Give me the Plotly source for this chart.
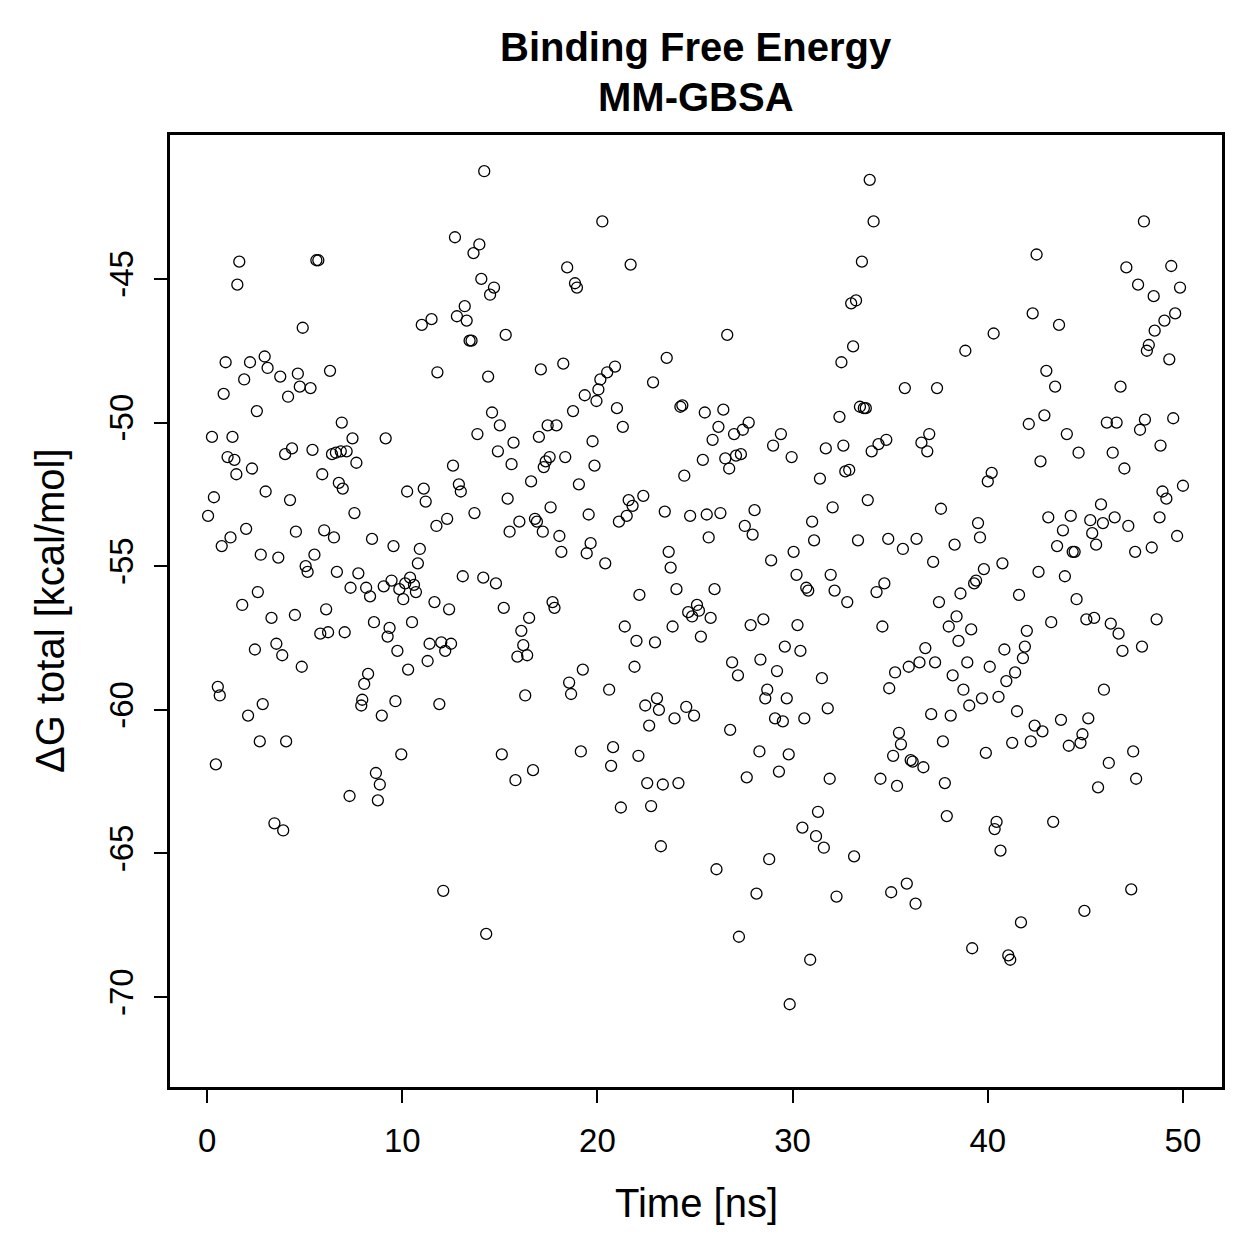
import plotly.graph_objects as go

time_ns = [
0.05,0.25,0.35,0.45,0.55,0.65,0.75,0.85,0.95,1.05,1.2,1.3,1.4,1.5,1.55,1.65,1.8,1.9,2.0,2.1,2.2,2.3,2.45,2.55,2.6,2.7,2.75,2.85,2.95,3.0,
3.1,3.3,3.45,3.55,3.65,3.75,3.85,3.9,4.0,4.05,4.15,4.25,4.35,4.5,4.55,4.65,4.75,4.85,4.9,5.05,5.15,5.3,5.4,5.5,5.6,5.7,5.8,5.9,6.0,6.1,
6.2,6.3,6.4,6.5,6.6,6.65,6.75,6.85,6.9,6.95,7.05,7.15,7.3,7.35,7.45,7.55,7.65,7.75,7.9,7.95,8.05,8.15,8.25,8.35,8.45,8.55,8.65,8.75,8.85,8.95,
9.05,9.15,9.25,9.35,9.45,9.55,9.65,9.75,9.85,9.95,10.05,10.15,10.25,10.3,10.4,10.5,10.6,10.7,10.8,10.9,11.0,11.1,11.2,11.3,11.4,11.5,11.65,11.75,11.8,11.9,
12.0,12.1,12.2,12.3,12.4,12.5,12.6,12.7,12.8,12.9,13.0,13.1,13.2,13.3,13.45,13.55,13.65,13.7,13.85,13.95,14.05,14.15,14.2,14.3,14.4,14.5,14.6,14.7,14.8,14.9,
15.0,15.1,15.2,15.3,15.4,15.5,15.6,15.7,15.8,15.9,16.0,16.1,16.2,16.3,16.4,16.5,16.6,16.7,16.8,16.9,17.0,17.1,17.2,17.25,17.35,17.45,17.55,17.6,17.7,17.8,
17.9,18.05,18.15,18.25,18.35,18.45,18.55,18.65,18.75,18.85,18.95,19.05,19.15,19.25,19.35,19.45,19.55,19.65,19.75,19.85,19.95,20.05,20.15,20.25,20.4,20.5,20.6,20.7,20.8,20.9,
21.0,21.1,21.2,21.3,21.4,21.5,21.6,21.7,21.8,21.9,22.0,22.1,22.15,22.35,22.45,22.55,22.65,22.75,22.85,22.95,23.05,23.15,23.25,23.35,23.45,23.55,23.65,23.75,23.85,23.95,
24.05,24.15,24.25,24.35,24.45,24.55,24.65,24.75,24.85,24.95,25.1,25.2,25.3,25.4,25.5,25.6,25.7,25.8,25.9,26.0,26.1,26.2,26.3,26.45,26.55,26.65,26.75,26.8,26.9,27.0,
27.1,27.2,27.25,27.35,27.45,27.55,27.65,27.75,27.85,27.95,28.05,28.15,28.3,28.35,28.5,28.6,28.7,28.8,28.9,29.0,29.1,29.2,29.3,29.4,29.5,29.6,29.7,29.8,29.85,29.95,
30.05,30.2,30.25,30.4,30.5,30.6,30.7,30.8,30.9,31.0,31.1,31.2,31.3,31.4,31.5,31.6,31.7,31.8,31.9,31.95,32.05,32.15,32.25,32.4,32.5,32.6,32.7,32.8,32.9,33.0,
33.1,33.15,33.25,33.35,33.45,33.55,33.65,33.75,33.85,33.95,34.05,34.15,34.3,34.4,34.5,34.6,34.7,34.8,34.9,34.95,35.05,35.15,35.25,35.35,35.45,35.55,35.65,35.75,35.85,35.95,
36.05,36.15,36.3,36.35,36.5,36.6,36.7,36.8,36.9,37.0,37.1,37.2,37.3,37.4,37.5,37.6,37.7,37.8,37.9,38.0,38.1,38.2,38.3,38.4,38.5,38.6,38.75,38.85,38.95,39.05,
39.15,39.2,39.3,39.4,39.5,39.6,39.7,39.8,39.9,40.0,40.1,40.2,40.3,40.35,40.45,40.55,40.65,40.75,40.85,40.95,41.05,41.15,41.25,41.4,41.5,41.6,41.7,41.8,41.9,42.0,
42.1,42.2,42.3,42.4,42.5,42.6,42.7,42.8,42.9,43.0,43.1,43.25,43.35,43.45,43.55,43.65,43.75,43.85,43.95,44.05,44.15,44.25,44.35,44.45,44.55,44.65,44.75,44.85,44.95,45.05,
45.15,45.25,45.35,45.45,45.55,45.65,45.8,45.9,45.95,46.1,46.2,46.3,46.4,46.5,46.6,46.7,46.8,46.9,47.0,47.1,47.2,47.35,47.45,47.55,47.6,47.7,47.8,47.9,48.0,48.05,
48.15,48.25,48.4,48.5,48.55,48.65,48.8,48.85,48.95,49.05,49.15,49.3,49.4,49.5,49.6,49.7,49.85,50.0,
]

delta_g = [
-53.25,-50.5,-52.6,-61.9,-59.2,-59.5,-54.3,-49.0,-47.9,-51.2,-54.0,-50.5,-51.3,-51.8,-45.2,-44.4,-56.35,-48.5,-53.7,-60.2,-47.9,-51.6,-57.9,-49.6,-55.9,-61.1,-54.6,-59.8,-47.7,-52.4,
-48.1,-56.8,-63.95,-57.7,-54.7,-48.4,-58.1,-64.2,-51.1,-61.1,-49.1,-52.7,-50.9,-56.7,-53.8,-48.3,-48.75,-58.5,-46.7,-55.0,-55.2,-48.8,-50.95,-54.6,-44.35,-44.35,-57.35,-51.8,-53.75,-56.5,
-57.3,-48.2,-51.1,-54.0,-51.05,-55.2,-52.1,-51.0,-50.0,-52.3,-57.3,-51.0,-63.0,-55.75,-50.55,-53.15,-51.4,-55.25,-59.85,-59.65,-59.1,-55.75,-58.75,-56.05,-54.05,-56.95,-62.2,-63.15,-62.6,-60.2,
-55.7,-50.55,-57.45,-57.15,-55.5,-54.3,-59.7,-57.95,-55.8,-61.55,-56.15,-55.6,-52.4,-58.6,-55.4,-56.95,-55.65,-55.9,-54.9,-54.4,-46.6,-52.3,-52.75,-58.3,-57.7,-46.4,-56.25,-53.6,-48.25,-59.8,
-57.65,-66.3,-57.95,-53.35,-56.5,-57.7,-51.5,-43.55,-46.3,-52.15,-52.4,-55.35,-45.95,-46.45,-47.15,-47.15,-44.1,-53.15,-50.4,-43.8,-45.0,-55.4,-41.25,-67.8,-48.4,-45.55,-49.65,-45.3,-55.6,-51.0,
-50.1,-61.55,-56.45,-46.95,-52.65,-53.8,-51.45,-50.7,-62.45,-58.15,-53.45,-57.25,-57.75,-59.5,-58.1,-56.8,-52.05,-62.1,-53.35,-53.45,-50.5,-48.15,-53.8,-51.55,-51.35,-50.1,-51.2,-52.95,-56.25,-56.45,
-50.1,-53.95,-54.5,-47.95,-51.2,-44.6,-59.05,-59.45,-49.6,-45.15,-45.3,-52.15,-61.45,-58.6,-49.05,-54.55,-53.2,-54.2,-50.65,-51.5,-49.25,-48.85,-48.5,-43.0,-54.9,-48.25,-59.3,-61.95,-61.3,-48.05,
-49.5,-53.45,-63.4,-50.15,-57.1,-53.25,-52.7,-44.5,-52.9,-58.5,-57.6,-61.6,-56.0,-52.55,-59.85,-62.55,-60.55,-63.35,-48.6,-57.65,-59.6,-60.0,-64.75,-62.6,-53.1,-47.75,-54.5,-55.05,-57.1,-60.3,
-55.8,-62.55,-49.45,-49.4,-51.85,-59.9,-56.6,-53.25,-56.75,-60.2,-56.35,-56.55,-57.45,-51.3,-49.65,-53.2,-54.0,-56.8,-50.6,-55.8,-65.55,-50.15,-53.15,-49.55,-51.25,-46.95,-51.6,-60.7,-58.35,-50.4,
-51.15,-58.8,-67.9,-51.1,-50.25,-53.6,-62.35,-50.0,-57.05,-53.9,-53.05,-66.4,-61.45,-58.25,-56.85,-59.6,-59.3,-65.2,-54.8,-50.8,-60.3,-58.65,-62.15,-50.4,-60.4,-57.8,-59.6,-61.55,-70.25,-51.2,
-54.5,-55.3,-57.05,-57.95,-64.1,-60.3,-55.75,-55.85,-68.7,-53.45,-54.1,-64.4,-63.55,-51.95,-58.9,-64.8,-50.9,-59.95,-62.4,-55.3,-52.95,-55.85,-66.5,-49.8,-47.9,-50.8,-51.7,-56.25,-51.65,-45.85,
-47.35,-65.1,-45.75,-54.1,-49.45,-44.4,-49.5,-49.5,-52.7,-41.55,-51.0,-43.0,-55.9,-50.75,-62.4,-57.1,-55.6,-50.6,-54.05,-59.25,-66.35,-61.6,-58.7,-62.65,-60.8,-61.2,-54.4,-48.8,-66.05,-58.5,
-61.75,-61.8,-66.75,-54.05,-58.35,-50.7,-62.0,-57.85,-51.0,-50.4,-60.15,-54.85,-58.35,-48.8,-56.25,-53.0,-61.1,-62.55,-63.7,-57.1,-60.2,-58.8,-54.25,-56.75,-57.6,-55.95,-59.3,-47.5,-58.35,-59.85,
-57.2,-68.3,-55.6,-55.5,-53.5,-54.0,-59.6,-55.1,-61.5,-52.05,-58.5,-51.75,-46.9,-64.15,-63.9,-59.55,-64.9,-54.9,-57.9,-59.0,-68.55,-68.7,-61.15,-58.7,-60.05,-56.0,-67.4,-58.2,-57.8,-57.25,
-50.05,-61.1,-46.2,-60.55,-44.15,-55.2,-51.35,-60.75,-49.75,-48.2,-53.3,-56.95,-63.9,-48.75,-54.3,-46.6,-60.35,-53.75,-55.35,-50.4,-61.25,-53.25,-54.5,-54.5,-56.15,-51.05,-61.15,-60.85,-67.0,-56.85,
-60.3,-53.4,-53.85,-56.8,-54.25,-62.7,-52.85,-53.5,-59.3,-50.0,-61.85,-57.0,-51.05,-53.3,-50.0,-57.35,-48.75,-57.95,-51.6,-44.6,-53.6,-66.25,-61.45,-54.5,-62.4,-45.2,-50.25,-57.8,-43.0,-49.9,
-47.5,-47.3,-54.35,-45.6,-46.8,-56.85,-53.3,-50.8,-52.4,-46.45,-52.65,-47.8,-44.55,-49.85,-46.2,-53.95,-45.3,-52.2,
]

title_lines = ["Binding Free Energy", "MM-GBSA"]
x_label = "Time [ns]"
y_label = "ΔG total [kcal/mol]"
x_ticks = [0, 10, 20, 30, 40, 50]
y_ticks = [-45, -50, -55, -60, -65, -70]
y_tick_text = ["-45", "-50", "-55", "-60", "-65", "-70"]

FONT = "Liberation Sans, Arial, Helvetica, sans-serif"
TICK_SIZE = 33
LAB_SIZE = 40
TITLE_SIZE = 40

fig = go.Figure()
fig.add_trace(go.Scatter(
    x=time_ns, y=delta_g, mode="markers",
    marker=dict(symbol="circle-open", size=11, color="black", line=dict(width=1.3, color="black")),
    showlegend=False, hoverinfo="x+y",
))

# two-line bold title, centred over the plot region
for line, ypix in zip(title_lines, [47, 97]):
    fig.add_annotation(
        text="<b>" + line + "</b>", xref="paper", x=0.5, xanchor="center",
        yref="paper", y=(1087 - ypix) / (1087 - 135), yanchor="middle",
        showarrow=False, font=dict(family=FONT, size=TITLE_SIZE, color="black"),
    )

# axis titles
fig.add_annotation(
    text=x_label, xref="paper", x=0.5, xanchor="center",
    yref="paper", y=(1087 - 1203) / (1087 - 135), yanchor="middle",
    showarrow=False, font=dict(family=FONT, size=LAB_SIZE, color="black"),
)
fig.add_annotation(
    text=y_label, xref="paper", x=(50 - 170) / (1222 - 170), xanchor="center",
    yref="paper", y=0.5, yanchor="middle", textangle=-90,
    showarrow=False, font=dict(family=FONT, size=LAB_SIZE, color="black"),
)

fig.update_layout(
    width=1259, height=1259,
    margin=dict(l=170, r=37, t=135, b=172, autoexpand=False),
    paper_bgcolor="white", plot_bgcolor="white",
    font=dict(family=FONT, size=TICK_SIZE, color="black"),
    xaxis=dict(
        range=[-1.9, 52.0], tickmode="array", tickvals=x_ticks,
        ticks="outside", ticklen=13, tickwidth=2, tickcolor="black",
        ticklabelstandoff=10,
        showline=True, linewidth=2.5, linecolor="black", mirror=True,
        showgrid=False, zeroline=False,
        tickfont=dict(family=FONT, size=TICK_SIZE, color="black"),
    ),
    yaxis=dict(
        range=[-73.13, -39.99], tickmode="array", tickvals=y_ticks, ticktext=y_tick_text,
        tickangle=-90,
        ticks="outside", ticklen=13, tickwidth=2, tickcolor="black",
        ticklabelstandoff=8,
        showline=True, linewidth=2.5, linecolor="black", mirror=True,
        showgrid=False, zeroline=False,
        tickfont=dict(family=FONT, size=TICK_SIZE, color="black"),
    ),
)

fig.write_html("out.html")
